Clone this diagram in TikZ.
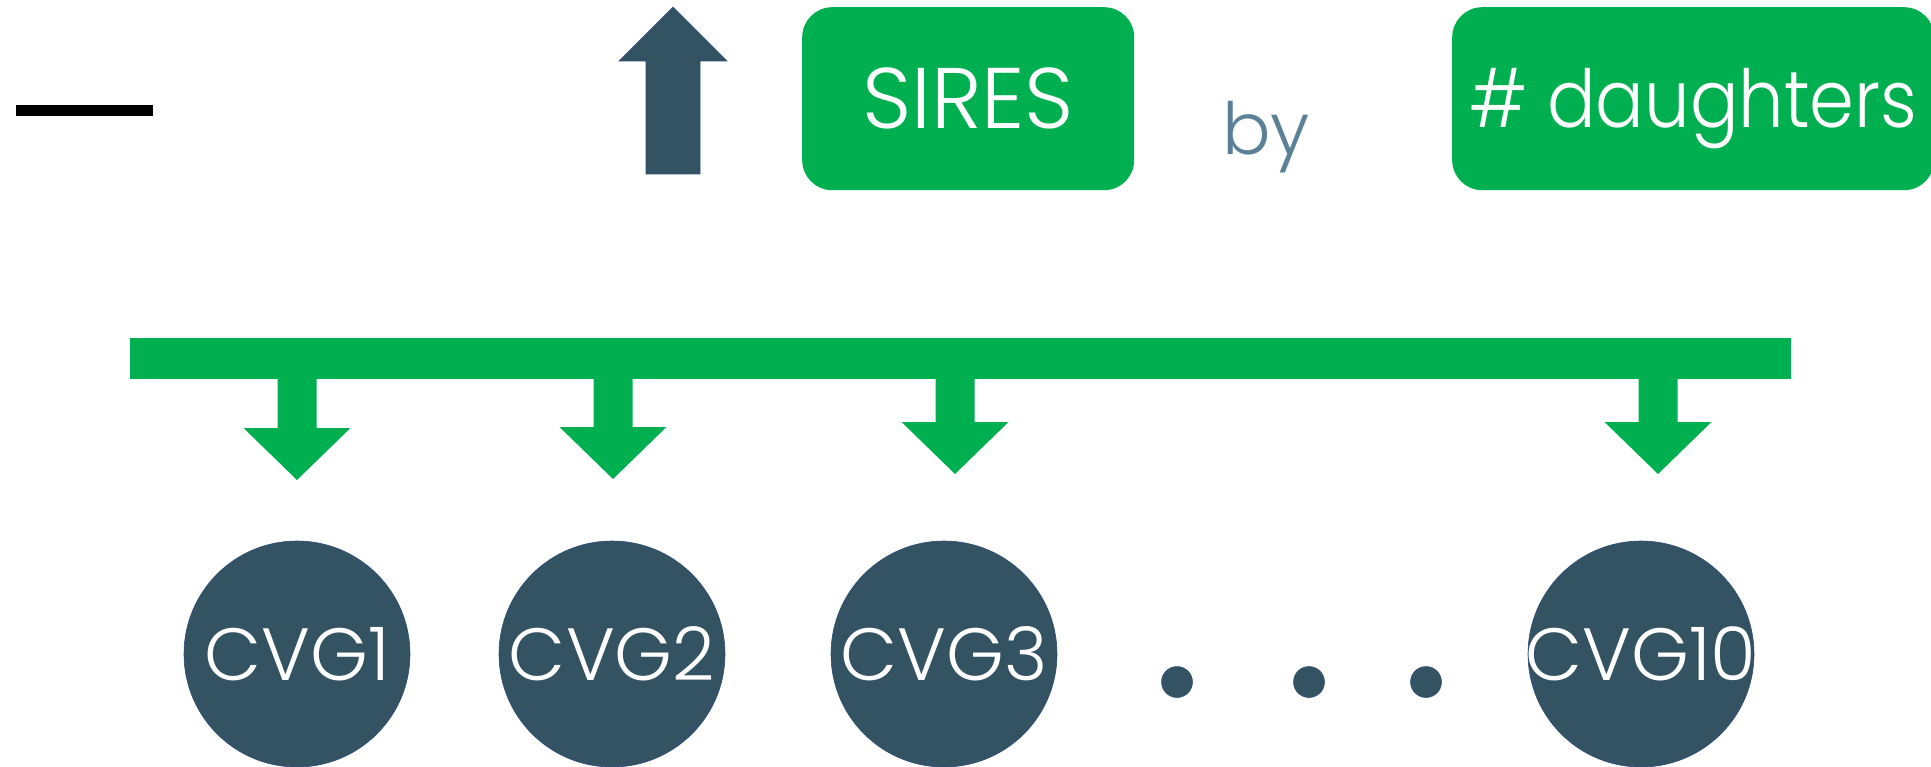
\documentclass[tikz,border=0pt]{standalone}
\usepackage{fontspec}
\setmainfont{Poppins}[UprightFont={* Light}]
\newfontfamily\narrowfont{Poppins}[UprightFont={* Light}, FakeStretch=0.9]
\usetikzlibrary{calc}

\definecolor{busgreen}{HTML}{00B050}
\definecolor{slate}{HTML}{335262}
\definecolor{slateedge}{HTML}{2F4D7C}
\definecolor{bygrey}{HTML}{5B8199}

% green block arrow hanging from the bus bar down to a tip coordinate
\newcommand\dropArrow[1]{%
  \fill[busgreen]
    ($(bar.center -| #1)+(-19.5,0)$) -- ($(bar.center -| #1)+(19.5,0)$)
    -- ($(#1)+(19.5,-52)$) -- ($(#1)+(53.5,-52)$) -- (#1)
    -- ($(#1)+(-53.5,-52)$) -- ($(#1)+(-19.5,-52)$) -- cycle;}

\begin{document}
\begin{tikzpicture}[x=1pt,y=-1pt,
  tagbox/.style={fill=busgreen, rounded corners=30pt, text=white, inner sep=0pt,
    anchor=north west, minimum height=183pt,
    font=\fontsize{86}{86}\selectfont, text height=60pt, text depth=0pt},
  cvg/.style={circle, fill=slate, draw=slateedge, line width=0.6pt,
    minimum size=226pt, inner sep=0pt, text=white,
    font=\fontsize{74}{74}\selectfont, text height=52pt, text depth=0pt},
  dotnode/.style={circle, fill=slate, draw=slateedge, line width=0.5pt,
    minimum size=31pt, inner sep=0pt}]
\useasboundingbox (0,0) rectangle (1931,767);

% minus sign at the far left
\fill[black] (16,105) rectangle (153,116);
\coordinate (minusbar) at (84.5,110.5);

% upward arrow
\coordinate (uptip) at (673,7);
\filldraw[fill=slate, draw=slateedge, line width=0.6pt]
  (uptip) -- ($(uptip)+(54,54)$) -- ($(uptip)+(27,54)$) -- ($(uptip)+(27,167)$)
  -- ($(uptip)+(-27,167)$) -- ($(uptip)+(-27,54)$) -- ($(uptip)+(-54,54)$) -- cycle;

% header boxes
\node[tagbox, minimum width=332pt] (sires) at (802,7) {SIRES};
\node[text=bygrey, font=\fontsize{72}{72}\selectfont, inner sep=0pt, anchor=base]
  (by) at (1266,155) {by};
\node[tagbox, minimum width=482pt, font=\narrowfont\fontsize{80}{80}\selectfont,
  text height=57pt] (daughters) at (1452,7) {\# daughters};

% bus bar
\node[fill=busgreen, inner sep=0pt, anchor=north west,
  minimum width=1661pt, minimum height=41pt] (bar) at (130,338) {};

% arrow tips
\coordinate (t1) at (297,480);
\coordinate (t2) at (613,479);
\coordinate (t3) at (955,474);
\coordinate (t4) at (1658,474);
\dropArrow{t1}
\dropArrow{t2}
\dropArrow{t3}
\dropArrow{t4}

% groups (labels take no width, so every circle keeps its size)
\node[cvg] (cvg1) at (297,654) {\makebox[0pt]{CVG1}};
\node[cvg] (cvg2) at (612,654) {\makebox[0pt]{CVG2}};
\node[cvg] (cvg3) at (944,654) {\makebox[0pt]{CVG3}};
\node[cvg] (cvg10) at (1641,654) {\makebox[0pt]{CVG10}};

% ellipsis
\node[dotnode] (d1) at (1177,682) {};
\node[dotnode] (d2) at (1309,682) {};
\node[dotnode] (d3) at (1426,682) {};
\end{tikzpicture}
\end{document}
